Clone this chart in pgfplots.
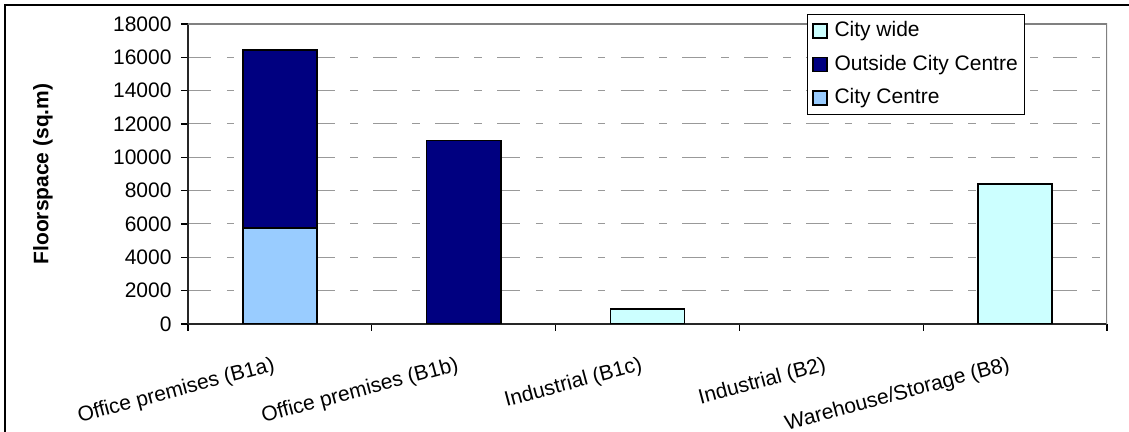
\documentclass[border=0pt]{standalone}
\usepackage{fontspec}
\setmainfont{Liberation Sans}
\usepackage{pgfplots}
\pgfplotsset{compat=1.18}
\definecolor{citycentre}{HTML}{99CCFF}
\definecolor{outside}{HTML}{000080}
\definecolor{citywide}{HTML}{CCFFFF}
\definecolor{bordergray}{HTML}{808080}
\definecolor{gridgray}{HTML}{999999}
\newcommand{\chartfont}{\fontsize{10.5}{12.6}\selectfont}
\begin{document}
\begin{tikzpicture}
\useasboundingbox (-94pt,-54pt) rectangle (470.5pt,162pt);
\draw[line width=0.6pt] (-91.5pt,-54pt) -- (-91.5pt,159.5pt) -- (470.5pt,159.5pt);
\begin{axis}[
  scale only axis, width=459.5pt, height=150pt,
  xmin=0.5, xmax=5.5, ymin=0, ymax=18000,
  ybar, bar width=37pt, bar shift=0pt,
  xtick={0.5,1.5,2.5,3.5,4.5,5.5}, xticklabels={},
  extra x ticks={1,2,3,4,5},
  extra x tick labels={Office premises (B1a),Office premises (B1b),Industrial (B1c),Industrial (B2),Warehouse/Storage (B8)},
  extra x tick style={major tick length=0pt, grid=none,
    xticklabel style={xshift=-4pt, yshift=-15.5pt, rotate=15, anchor=north east, inner sep=0pt}},
  ytick={0,2000,...,18000},
  tick align=outside, tick pos=left,
  major tick length=3.5pt,
  tick label style={font=\chartfont},
  axis x line*=bottom, axis y line*=left,
  axis line style={draw=black!85, line width=0.75pt},
  tick style={draw=black, line width=0.6pt},
  ymajorgrids,
  grid style={draw=gridgray, line width=0.5pt, dash pattern=on 11.7pt off 7.7pt on 3.8pt off 7.7pt},
  /pgf/number format/assume math mode=true,
  scaled y ticks=false,
  yticklabel={\pgfmathprintnumber[1000 sep={}]{\tick}},
  yticklabel style={xshift=-1.2pt},
  ylabel={Floorspace (sq.m)},
  ylabel style={at={(axis description cs:-0.1578,0.5)}, anchor=center, font=\chartfont\bfseries},
  legend style={at={(0.674,1.0344)}, anchor=north west, draw=black, line width=0.5pt, fill=white,
    font=\chartfont, legend cell align=left, row sep=3.75pt, inner xsep=2.2pt, inner ysep=1.9pt,
    nodes={inner sep=1pt, text height=8.5pt, text depth=2.5pt},
    /tikz/every odd column/.append style={column sep=2.4pt}},
  legend image code/.code={\draw[#1, line width=0.7pt, draw=black] (0pt,-3.5pt) rectangle (7pt,3.5pt);},
]
\draw[bordergray, line width=1pt] (rel axis cs:0,1) -- (rel axis cs:1,1) -- (rel axis cs:1,0);
\addplot[fill=citywide, draw=black, line width=0.8pt] coordinates {(3,900) (5,8400)};
\addlegendentry{City wide\hspace{2.5pt}}
\addplot[fill=outside, draw=black, line width=0.8pt] coordinates {(1,16450) (2,11000)};
\addlegendentry{Outside City Centre\hspace{2.5pt}}
\addplot[fill=citycentre, draw=black, line width=0.8pt] coordinates {(1,5750)};
\addlegendentry{City Centre\hspace{2.5pt}}
\end{axis}
\end{tikzpicture}
\end{document}
